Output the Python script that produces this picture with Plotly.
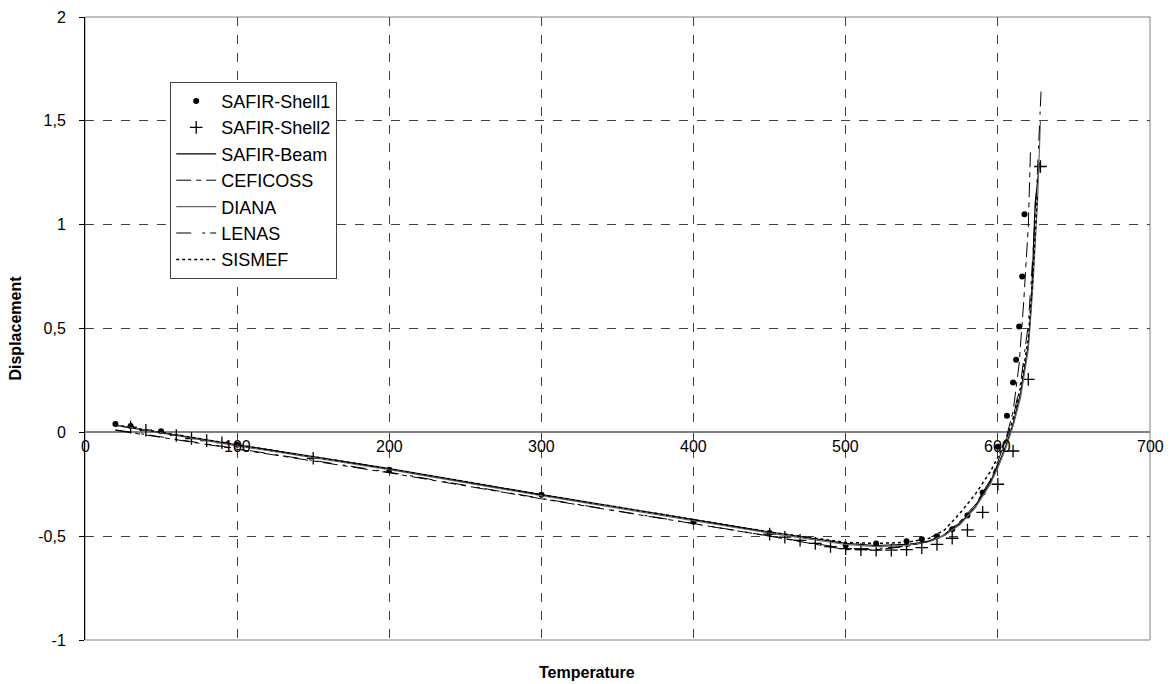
import plotly.graph_objects as go

# ---------------- data ----------------
shell1_T = [20, 30, 50, 100, 200, 300, 400, 450, 500, 520, 540, 550, 560, 570, 580, 590, 600, 606, 610, 612, 614, 616, 617.5]
shell1_D = [0.04, 0.03, 0.005, -0.06, -0.18, -0.30, -0.43, -0.485, -0.545, -0.535, -0.525, -0.515, -0.50, -0.467, -0.40, -0.29, -0.07, 0.08, 0.24, 0.35, 0.51, 0.75, 1.05]

shell2_T = [30, 40, 60, 70, 80, 90, 150, 450, 460, 470, 480, 490, 500, 510, 520, 530, 540, 550, 560, 570, 580, 590, 600, 610, 620, 628]
shell2_D = [0.025, 0.01, -0.015, -0.03, -0.04, -0.05, -0.125, -0.49, -0.505, -0.52, -0.535, -0.55, -0.56, -0.565, -0.567, -0.567, -0.565, -0.555, -0.54, -0.51, -0.47, -0.385, -0.25, -0.09, 0.255, 1.28]

beam_T = [20, 100, 200, 300, 400, 450, 500, 520, 540, 555, 565, 575, 585, 595, 600, 605, 610, 615, 620, 622, 624.5, 627.5]
beam_D = [0.035, -0.06, -0.175, -0.30, -0.42, -0.48, -0.535, -0.545, -0.54, -0.525, -0.495, -0.44, -0.36, -0.24, -0.16, -0.07, 0.04, 0.19, 0.42, 0.62, 1.10, 1.30]

ceficoss_T = [20, 100, 200, 300, 400, 450, 500, 520, 540, 555, 565, 575, 585, 595, 600, 605, 610, 614, 617, 620, 621.5]
ceficoss_D = [0.01, -0.08, -0.195, -0.32, -0.44, -0.50, -0.565, -0.565, -0.55, -0.525, -0.49, -0.43, -0.35, -0.23, -0.14, -0.04, 0.10, 0.33, 0.63, 0.99, 1.37]

diana_T = [20, 100, 200, 300, 400, 450, 500, 520, 540, 555, 565, 575, 585, 595, 600, 605, 610, 615, 620, 623, 626, 628]
diana_D = [0.035, -0.065, -0.18, -0.305, -0.425, -0.485, -0.54, -0.55, -0.545, -0.525, -0.495, -0.445, -0.365, -0.25, -0.17, -0.08, 0.03, 0.17, 0.40, 0.70, 1.10, 1.50]

lenas_T = [20, 100, 200, 300, 400, 450, 500, 520, 540, 555, 565, 575, 585, 595, 600, 605, 610, 615, 620, 623, 626, 628.5]
lenas_D = [0.012, -0.078, -0.192, -0.318, -0.438, -0.498, -0.56, -0.56, -0.548, -0.522, -0.49, -0.435, -0.355, -0.24, -0.15, -0.05, 0.07, 0.24, 0.52, 0.85, 1.25, 1.66]

sismef_T = [20, 100, 200, 300, 400, 450, 500, 520, 540, 555, 565, 575, 585, 595, 600, 605, 610, 615, 620, 623, 626]
sismef_D = [0.035, -0.06, -0.175, -0.30, -0.42, -0.48, -0.53, -0.535, -0.53, -0.51, -0.47, -0.39, -0.30, -0.19, -0.12, -0.04, 0.06, 0.22, 0.45, 0.75, 1.15]

x_ticks = [0, 100, 200, 300, 400, 500, 600, 700]
y_ticks = [-1, -0.5, 0, 0.5, 1, 1.5, 2]
y_tick_labels = ["-1", "-0,5", "0", "0,5", "1", "1,5", "2"]

FONT = "Arial, Liberation Sans, sans-serif"

fig = go.Figure()
fig.add_trace(go.Scatter(x=shell1_T, y=shell1_D, mode="markers", name="SAFIR-Shell1",
                         marker=dict(symbol="circle", size=6, color="black")))
fig.add_trace(go.Scatter(x=shell2_T, y=shell2_D, mode="markers", name="SAFIR-Shell2",
                         marker=dict(symbol="cross-thin-open", size=9, color="black",
                                     line=dict(color="black", width=1.3))))
fig.add_trace(go.Scatter(x=beam_T, y=beam_D, mode="lines", name="SAFIR-Beam",
                         line=dict(color="black", width=1.2)))
fig.add_trace(go.Scatter(x=ceficoss_T, y=ceficoss_D, mode="lines", name="CEFICOSS",
                         line=dict(color="black", width=1, dash="15px,5px,5px,5px")))
fig.add_trace(go.Scatter(x=diana_T, y=diana_D, mode="lines", name="DIANA",
                         line=dict(color="#666666", width=1.2)))
fig.add_trace(go.Scatter(x=lenas_T, y=lenas_D, mode="lines", name="LENAS",
                         line=dict(color="black", width=1, dash="15px,11px,3px,5px")))
fig.add_trace(go.Scatter(x=sismef_T, y=sismef_D, mode="lines", name="SISMEF",
                         line=dict(color="black", width=1.5, dash="3px,3px")))

# x tick labels placed just under the zero line
for t in x_ticks:
    fig.add_annotation(x=t, y=0, xref="x", yref="y", text=str(t), showarrow=False,
                       yanchor="top", yshift=-4, font=dict(family=FONT, size=16, color="black"))

fig.add_annotation(x=0.4714, y=-0.0514, xref="paper", yref="paper", text="<b>Temperature</b>",
                   showarrow=False, yanchor="middle", font=dict(family=FONT, size=16, color="black"))
fig.add_annotation(x=-0.0657, y=0.5, xref="paper", yref="paper", text="<b>Displacement</b>",
                   showarrow=False, textangle=-90, xanchor="center", yanchor="middle",
                   font=dict(family=FONT, size=16, color="black"))

# plot area border
fig.add_shape(type="rect", xref="paper", yref="paper", x0=0, y0=0, x1=1, y1=1,
              line=dict(color="#808080", width=1), layer="below")

fig.update_layout(
    width=1175, height=684,
    margin=dict(l=85, r=25, t=17, b=44, autoexpand=False),
    paper_bgcolor="white", plot_bgcolor="white",
    font=dict(family=FONT, size=16, color="black"),
    showlegend=True,
    legend=dict(x=0.08, y=0.896, xanchor="left", yanchor="top",
                bgcolor="white", bordercolor="#404040", borderwidth=1,
                font=dict(family=FONT, size=18, color="black"),
                itemwidth=40, tracegroupgap=0),
    xaxis=dict(range=[0, 700], tickvals=x_ticks, showticklabels=False,
               showgrid=True, gridcolor="#404040", griddash="dash", gridwidth=1,
               zeroline=False, showline=False, ticks="", fixedrange=True, automargin=False),
    yaxis=dict(range=[-1, 2], tickvals=y_ticks, ticktext=y_tick_labels,
               showgrid=True, gridcolor="#404040", griddash="dash", gridwidth=1,
               zeroline=True, zerolinecolor="#808080", zerolinewidth=1.5,
               showline=True, linecolor="black", linewidth=1,
               ticks="outside", ticklen=5, tickcolor="black", automargin=False,
               ticklabelstandoff=10, tickfont=dict(family=FONT, size=16)),
)

fig.write_html("out.html", config={"displayModeBar": False},
               post_script="document.body.style.margin='0';")
